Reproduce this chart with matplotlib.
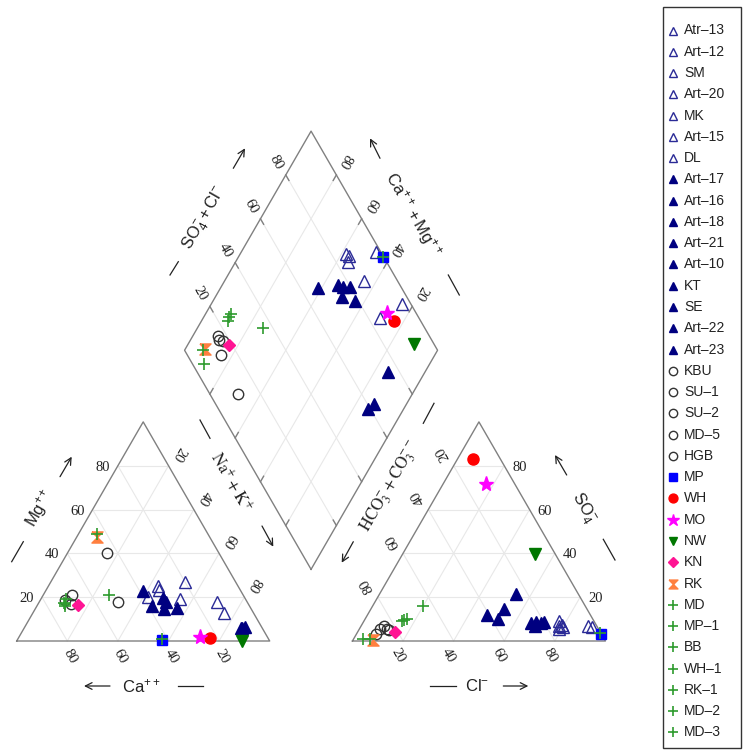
import numpy as np
import matplotlib
matplotlib.use('Agg')
import matplotlib.pyplot as plt
from matplotlib.patches import Rectangle
from matplotlib.path import Path

plt.rcParams['font.family'] = ['Liberation Sans', 'DejaVu Sans']
plt.rcParams['mathtext.fontset'] = 'custom'
plt.rcParams['mathtext.rm'] = 'Liberation Sans'
plt.rcParams['mathtext.it'] = 'Liberation Sans:italic'
plt.rcParams['mathtext.bf'] = 'Liberation Sans:bold'

# sample ids and ionic composition (% of meq/L)
names = ['Atr–13', 'Art–12', 'SM', 'Art–20', 'MK', 'Art–15', 'DL',
         'Art–17', 'Art–16', 'Art–18', 'Art–21', 'Art–10', 'KT', 'SE', 'Art–22', 'Art–23',
         'KBU', 'SU–1', 'SU–2', 'MD–5', 'HGB',
         'MP', 'WH', 'MO', 'NW', 'KN', 'RK',
         'MD', 'MP–1', 'BB', 'WH–1', 'RK–1', 'MD–2', 'MD–3']
groups = ['open'] * 7 + ['filled'] * 9 + ['circle'] * 5 + \
         ['MP', 'WH', 'MO', 'NW', 'KN', 'RK'] + ['plus'] * 7

mg = [20, 25, 23.5, 27, 19, 13, 18,
      23, 16, 19.5, 14.5, 18, 15, 6, 6, 6.5,
      21, 18.5, 17, 40, 18,
      0.5, 1.2, 2, 0, 16.4, 47.6,
      49, 1, 19, 17.5, 17, 21, 16]
na_k = [42, 43.5, 44.5, 53, 55, 75.5, 70,
        38.5, 45.5, 48, 51, 50, 56, 85.5, 86, 87,
        11.5, 10, 13, 15.5, 31,
        57, 76, 71.5, 89, 16.2, 7.8,
        7.4, 57, 10, 10, 10.5, 26, 11]
ca = [100 - m - n for m, n in zip(mg, na_k)]

cl = [77, 79, 78, 91.5, 80, 89.5, 79,
      52.5, 68.5, 68.5, 71.5, 66.5, 70.5, 54, 47, 52.5,
      9, 11, 12, 8, 8,
      96.5, 6.2, 17, 52.5, 14.6, 7.9,
      6.5, 96, 16.5, 15.5, 15, 20, 3.5]
so4 = [9, 7.5, 7, 6.5, 6.5, 7, 5.5,
       14.5, 7, 8.5, 8.5, 8, 8, 21.5, 12, 10,
       7, 5.5, 5, 5.5, 3,
       3.2, 83, 71.7, 39.5, 4.2, 0.5,
       1, 3.5, 10, 9.5, 9, 16, 1]
hco3 = [100 - c - s for c, s in zip(cl, so4)]

hourglass = Path([(-1, 1), (1, 1), (0, 0), (1, -1), (-1, -1), (0, 0), (-1, 1)])
styles = {
    'open':   dict(marker='^', mfc='none', mec='#2a2a96', ms=8, mew=1.0),
    'filled': dict(marker='^', color='#000080', ms=8),
    'circle': dict(marker='o', mfc='none', mec='#333333', ms=7.5, mew=1.0),
    'MP':     dict(marker='s', color='#0000FF', ms=6.5),
    'WH':     dict(marker='o', color='#FF0000', ms=8),
    'MO':     dict(marker='*', color='#FF00FF', ms=11),
    'NW':     dict(marker='v', color='#007700', ms=8),
    'KN':     dict(marker='D', color='#FF1493', ms=6.5),
    'RK':     dict(marker=hourglass, color='#FF7F3F', ms=8),
    'plus':   dict(marker='+', color='#2E9B2E', ms=9, mew=1.2),
}

GAP = 0.327
H = np.sqrt(3) / 2
PX = 253.0          # pixels per unit side
X0, Y0 = 16.7, 641  # pixel position of the Ca corner
EDGE = '#808080'
GRID = '#E8E8E8'
INK = '#222222'


def px(dx, dy):
    """pixel offset (y down) -> data offset"""
    return dx / PX, -dy / PX


def to_data(p):
    return (p[0] - X0) / PX, (Y0 - p[1]) / PX


def cation_xy(c, m, n):
    t = c + m + n
    m, n = m / t, n / t
    return n + 0.5 * m, H * m


def anion_xy(c, s, h):
    t = c + s + h
    c, s = c / t, s / t
    return 1 + GAP + c + 0.5 * s, H * s


def diamond_xy(n, s):
    return (1 + GAP + s + n) / 2, H * (1 + GAP + s - n)


fig = plt.figure(figsize=(7.46, 7.51), dpi=100)
ax = fig.add_axes([0, 0, 1, 1])
ax.set_xlim(-X0 / PX, (746 - X0) / PX)
ax.set_ylim(-(751 - Y0) / PX, Y0 / PX)
ax.axis('off')

levels = [0.2, 0.4, 0.6, 0.8]

# triangle grids and outlines
for off in [0, 1 + GAP]:
    for v in levels:
        ax.plot([off + 0.5 * v, off + 1 - 0.5 * v], [H * v, H * v], color=GRID, lw=0.8)
        ax.plot([off + v, off + v + 0.5 * (1 - v)], [0, H * (1 - v)], color=GRID, lw=0.8)
        ax.plot([off + 1 - v, off + 0.5 * (1 - v)], [0, H * (1 - v)], color=GRID, lw=0.8)
    ax.plot([off, off + 1, off + 0.5, off], [0, 0, H, 0], color=EDGE, lw=1.0)

# diamond grid, outline and ticks
for v in levels:
    ax.plot(*zip(diamond_xy(0, v), diamond_xy(1, v)), color=GRID, lw=0.8)
    ax.plot(*zip(diamond_xy(v, 0), diamond_xy(v, 1)), color=GRID, lw=0.8)
corners = [diamond_xy(1, 0), diamond_xy(1, 1), diamond_xy(0, 1), diamond_xy(0, 0), diamond_xy(1, 0)]
ax.plot(*zip(*corners), color=EDGE, lw=1.0)
tl = 0.025
for v in levels:
    for a, b in [((0, v), (tl, v)), ((1, v), (1 - tl, v)), ((v, 0), (v, tl)), ((v, 1), (v, 1 - tl))]:
        ax.plot(*zip(diamond_xy(*a), diamond_xy(*b)), color=EDGE, lw=1.0)

# tick labels
serif = dict(family='Liberation Serif', fontsize=10.5, color=INK)
for v in levels:
    lab = str(int(round(v * 100)))
    # Mg, left edge of cation triangle
    x, y = 0.5 * v, H * v
    ox, oy = px(-8, 1.5)
    ax.text(x + ox, y + oy, lab, ha='right', va='center', **serif)
    # SO4, right edge of anion triangle
    x, y = 1 + GAP + (1 - v) + 0.5 * v, H * v
    ox, oy = px(8, 1.5)
    ax.text(x + ox, y + oy, lab, ha='left', va='center', **serif)
    # Ca, bottom of cation triangle
    ox, oy = px(2.5, 15.5)
    ax.text(1 - v + ox, oy, lab, ha='center', va='center', rotation=-60,
            rotation_mode='anchor', **serif)
    # Cl, bottom of anion triangle
    ox, oy = px(-5, 15)
    ax.text(1 + GAP + v + ox, oy, lab, ha='center', va='center', rotation=-60,
            rotation_mode='anchor', **serif)
    # Na+K, right edge of cation triangle
    x, y = v + 0.5 * (1 - v), H * (1 - v)
    ox, oy = px(10, -12)
    ax.text(x + ox, y + oy, lab, ha='center', va='center', rotation=-120,
            rotation_mode='anchor', **serif)
    # HCO3, left edge of anion triangle
    x, y = 1 + GAP + 0.5 * (1 - v), H * (1 - v)
    ox, oy = px(-10.5, -12)
    ax.text(x + ox, y + oy, lab, ha='center', va='center', rotation=120,
            rotation_mode='anchor', **serif)
    # SO4+Cl, upper-left edge of diamond
    x, y = diamond_xy(0, v)
    ox, oy = px(-9.5, -12.5)
    ax.text(x + ox, y + oy, lab, ha='center', va='center', rotation=-60,
            rotation_mode='anchor', **serif)
    # Ca+Mg, upper-right edge of diamond
    x, y = diamond_xy(1 - v, 1)
    ox, oy = px(9, -13.5)
    ax.text(x + ox, y + oy, lab, ha='center', va='center', rotation=-120,
            rotation_mode='anchor', **serif)


def arrow(p0, p1):
    ax.annotate('', xy=to_data(p1), xytext=to_data(p0),
                arrowprops=dict(arrowstyle='->', color=INK, lw=0.9,
                                shrinkA=0, shrinkB=0, mutation_scale=12))


def dash(p0, p1):
    a, b = to_data(p0), to_data(p1)
    ax.plot([a[0], b[0]], [a[1], b[1]], color=INK, lw=0.9)


def title(p, s, rot, serif_font=False):
    x, y = to_data(p)
    extra = dict(math_fontfamily='stix') if serif_font else {}
    ax.text(x, y, s, ha='center', va='center', rotation=rot, rotation_mode='anchor',
            fontsize=12, color=INK, **extra)


# axis titles with direction arrows
title((40, 508), r'$\mathrm{Mg}^{++}$', 60)
arrow((60, 476.7), (71.7, 456.7))
dash((11.7, 561.7), (23.3, 541.7))

title((141.7, 686), r'$\mathrm{Ca}^{++}$', 0)
arrow((110, 686), (84, 686))
dash((178.3, 686), (203.3, 686))

title((231.7, 481.7), r'$\mathrm{Na}^{+} + \mathrm{K}^{+}$', -60, serif_font=True)
dash((200, 420), (210, 438.3))
arrow((262, 526), (273.3, 546.7))

title((390.7, 486.7), r'$\mathrm{HCO}_3^{-} + \mathrm{CO}_3^{--}$', 60, serif_font=True)
dash((423.3, 423.3), (434, 403.3))
arrow((353.3, 541.7), (341.7, 562.7))

title((582.7, 508.3), r'$\mathrm{SO}_4^{-}$', -60)
arrow((566.7, 475), (555, 455))
dash((603.3, 539.3), (615, 560))

title((476.7, 686), r'$\mathrm{Cl}^{-}$', 0)
dash((430, 686), (456, 686))
arrow((503.3, 686), (528.3, 686))

title((205, 218.3), r'$\mathrm{SO}_4^{-} + \mathrm{Cl}^{-}$', 60)
dash((170, 275), (178.3, 261.7))
arrow((233.3, 168.3), (245, 148.3))

title((413.3, 215), r'$\mathrm{Ca}^{++} + \mathrm{Mg}^{++}$', -60)
arrow((380, 158.3), (370, 138.3))
dash((448.3, 275), (459.3, 295))

# samples: cation point, anion point and projected diamond point
for i, name in enumerate(names):
    st = styles[groups[i]]
    cx, cy = cation_xy(ca[i], mg[i], na_k[i])
    axx, ayy = anion_xy(cl[i], so4[i], hco3[i])
    tot_c = ca[i] + mg[i] + na_k[i]
    tot_a = cl[i] + so4[i] + hco3[i]
    dx, dy = diamond_xy(na_k[i] / tot_c, (cl[i] + so4[i]) / tot_a)
    ax.plot([cx, axx, dx], [cy, ayy, dy], linestyle='none', **st)

# legend box, one row per sample
bx0, by0 = to_data((663.3, 748))
bx1, by1 = to_data((740.5, 7.3))
ax.add_patch(Rectangle((bx0, by0), bx1 - bx0, by1 - by0, fill=False,
                       edgecolor='#333333', lw=1.0, clip_on=False))
row0, pitch = 30.5, 21.27
for i, name in enumerate(names):
    st = dict(styles[groups[i]])
    st['ms'] = st['ms'] * 0.8
    mx, my = to_data((673, row0 + i * pitch))
    ax.plot([mx], [my], linestyle='none', clip_on=False, **st)
    tx, ty = to_data((684, row0 + i * pitch))
    ax.text(tx, ty, name, ha='left', va='center', fontsize=10, color=INK)

fig.savefig('out.png', dpi=100, facecolor='white')
